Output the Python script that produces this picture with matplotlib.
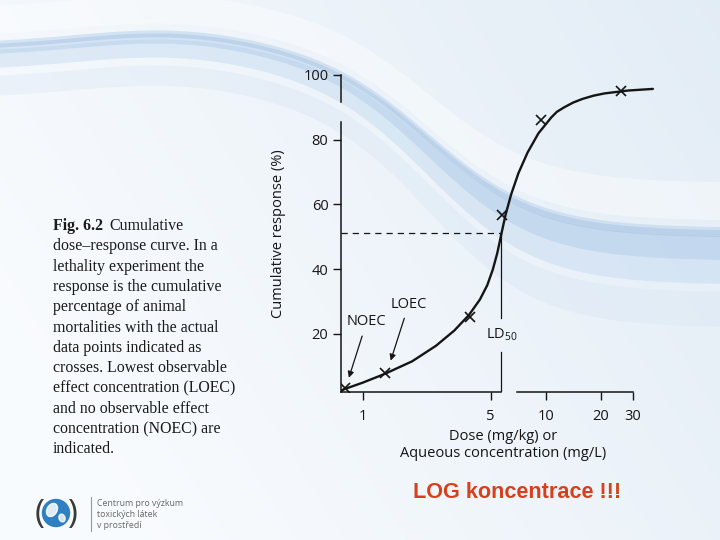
import numpy as np
import matplotlib
matplotlib.use('Agg')
import matplotlib.pyplot as plt
from matplotlib.ticker import NullLocator
from matplotlib.patches import Circle, Ellipse

plt.rcParams['font.family'] = ['Open Sans', 'DejaVu Sans']
plt.rcParams['mathtext.default'] = 'regular'

# values
curve_dose = [0.759, 0.794, 1.0, 1.318, 1.862, 2.512, 3.162, 3.802, 4.365, 4.786, 5.129,
              5.433, 5.728, 6.026, 6.457, 7.079, 7.943, 9.120, 10.72, 11.48, 12.59,
              14.13, 15.85, 18.20, 20.89, 28.18, 38.46]
curve_resp = [2.4, 2.9, 4.9, 7.6, 11.5, 16.3, 21.0, 25.8, 30.6, 35.0, 39.8,
              45.0, 51.1, 56.8, 63.0, 69.6, 76.0, 82.0, 86.9, 88.6, 90.0,
              91.5, 92.6, 93.6, 94.3, 95.2, 95.7]
cross_dose = [0.80, 1.32, 3.84, 5.75, 9.4, 25.7]
cross_resp = [3.3, 7.9, 25.3, 56.7, 86.1, 95.1]
ld50_dose = 5.72
ld50_resp = 51.1
x_ticks = [1, 5, 10, 20, 30]
x_ticklabels = ['1', '5', '10', '20', '30']
y_ticks = [20, 40, 60, 80, 100]

caption = [
    'dose\u2013response curve. In a',
    'lethality experiment the',
    'response is the cumulative',
    'percentage of animal',
    'mortalities with the actual',
    'data points indicated as',
    'crosses. Lowest observable',
    'effect concentration (LOEC)',
    'and no observable effect',
    'concentration (NOEC) are',
    'indicated.',
]

fig = plt.figure(figsize=(7.2, 5.4), dpi=100)

# slide background
bg = fig.add_axes([0, 0, 1, 1], zorder=0)
bg.set_xlim(0, 720)
bg.set_ylim(540, 0)
bg.axis('off')
gx, gy = np.meshgrid(np.linspace(0, 1, 200), np.linspace(0, 1, 150))
t = np.clip(0.75 * gx + 0.35 * (1 - gy) - 0.15, 0, 1)
c0 = np.array([0.975, 0.985, 0.995])
c1 = np.array([0.885, 0.925, 0.962])
img = c0 + (c1 - c0) * t[..., None]
bg.imshow(img, extent=(0, 720, 540, 0), aspect='auto', interpolation='bilinear')

# decorative swooshes
xs = np.linspace(0, 720, 400)
s = 0.5 * (1 + np.tanh((xs - 430) / 110))
yc = 48 + 185 * s - 14 * np.exp(-((xs - 170) / 130) ** 2)
bg.fill_between(xs, yc - 40 - 10 * s, yc - 12, color='white', alpha=0.4, lw=0)
bg.fill_between(xs, yc + 4, yc + 22 + 30 * s, color='#bcd5ee', alpha=0.4, lw=0)
bg.fill_between(xs, yc - 5, yc + 8 + 20 * s, color='#a9c7e7', alpha=0.4, lw=0)
bg.fill_between(xs, yc - 2, yc + 2 + 3 * s, color='#8db3dc', alpha=0.3, lw=0)
bg.fill_between(xs, yc + 30 + 30 * s, yc + 50 + 45 * s, color='#d3e3f3', alpha=0.3, lw=0)

# caption on the left
r = fig.canvas.get_renderer()
y0 = 226
fs_cap = 11.4
fig_txt = bg.text(53, y0, 'Fig. 6.2', fontsize=fs_cap, fontweight='bold',
                  family='Liberation Serif', va='center', ha='left', color='#1a1a1a')
w = fig_txt.get_window_extent(renderer=r).width
bg.text(53 + w + 6, y0, 'Cumulative', fontsize=fs_cap, family='Liberation Serif',
        va='center', ha='left', color='#1a1a1a')
for i, line in enumerate(caption):
    bg.text(53, y0 + (i + 1) * 20.3, line, fontsize=fs_cap, family='Liberation Serif',
            va='center', ha='left', color='#1a1a1a')

# logo and footer
bg.add_patch(Circle((56, 513), 13.5, color='#2f7fc1'))
bg.add_patch(Ellipse((52, 510), 10, 14, angle=30, color='white', alpha=0.85))
bg.add_patch(Ellipse((62, 518), 6, 8, angle=-20, color='white', alpha=0.8))
bg.text(40, 514, '(', fontsize=24, color='#3a3a3a', va='center', ha='center')
bg.text(72, 514, ')', fontsize=24, color='#3a3a3a', va='center', ha='center')
bg.plot([91, 91], [497, 531], color='#999999', lw=0.8)
for i, line in enumerate(['Centrum pro výzkum', 'toxických látek', 'v prostředí']):
    bg.text(97, 503 + i * 11.5, line, fontsize=6.3, color='#666666', va='center', ha='left')
bg.text(517, 492, 'LOG koncentrace !!!', fontsize=15.6, fontweight='bold',
        family='Liberation Sans', color='#d6401c', va='center', ha='center')

# chart
ax = fig.add_axes([341 / 720, 1 - 392 / 540, 315 / 720, 317 / 540], zorder=2)
ax.patch.set_alpha(0)
ax.set_xscale('log')
ax.set_xlim(0.76, 40)
ax.set_ylim(2, 100)
for sp in ax.spines.values():
    sp.set_visible(False)

ink = '#151515'
ax.plot(curve_dose, curve_resp, color=ink, lw=1.7, solid_capstyle='round',
        solid_joinstyle='round', zorder=3)
ax.plot(cross_dose, cross_resp, 'x', color=ink, ms=7.5, mew=1.2, zorder=4)

ax.plot([0.76, ld50_dose], [ld50_resp, ld50_resp], ls=(0, (5, 4)), color=ink, lw=0.9)
ax.plot([ld50_dose, ld50_dose], [ld50_resp, 25], color=ink, lw=0.9)
ax.plot([ld50_dose, ld50_dose], [14.5, 2], color=ink, lw=0.9)
ax.text(ld50_dose, 19.6, 'LD$_{50}$', fontsize=10.5, ha='center', va='center', color=ink)

# broken axis lines as in the scan
ytr = ax.get_yaxis_transform()
xtr = ax.get_xaxis_transform()
ax.plot([0, 0], [2, 85.5], color=ink, lw=1.1, transform=ytr, clip_on=False)
ax.plot([0, 0], [91.5, 100], color=ink, lw=1.1, transform=ytr, clip_on=False)
ax.plot([0.76, ld50_dose], [0, 0], color=ink, lw=1.1, transform=xtr, clip_on=False)
ax.plot([7.0, 30], [0, 0], color=ink, lw=1.1, transform=xtr, clip_on=False)

ax.set_xticks(x_ticks)
ax.set_xticklabels(x_ticklabels)
ax.xaxis.set_minor_locator(NullLocator())
ax.set_yticks(y_ticks)
ax.tick_params(axis='both', direction='out', length=6, width=1, colors=ink, labelsize=10.5)
ax.tick_params(axis='x', pad=6)
ax.tick_params(axis='y', pad=3)

ax.set_ylabel('Cumulative response (%)', fontsize=10.5, color=ink)
ax.yaxis.set_label_coords(-0.175, 0.5)
ax.text(0.514, -0.167, 'Dose (mg/kg) or\nAqueous concentration (mg/L)', transform=ax.transAxes,
        ha='center', va='center', fontsize=10.5, color=ink, linespacing=1.25)

arrow = dict(arrowstyle='-|>', color=ink, lw=0.9, mutation_scale=9, shrinkA=3, shrinkB=0)
ax.annotate('NOEC', xy=(0.839, 6.4), xytext=(1.05, 23.7), fontsize=10.5, color=ink,
            ha='center', va='center', arrowprops=arrow)
ax.annotate('LOEC', xy=(1.42, 11.7), xytext=(1.785, 29.2), fontsize=10.5, color=ink,
            ha='center', va='center', arrowprops=arrow)

fig.savefig('out.png', dpi=100)
